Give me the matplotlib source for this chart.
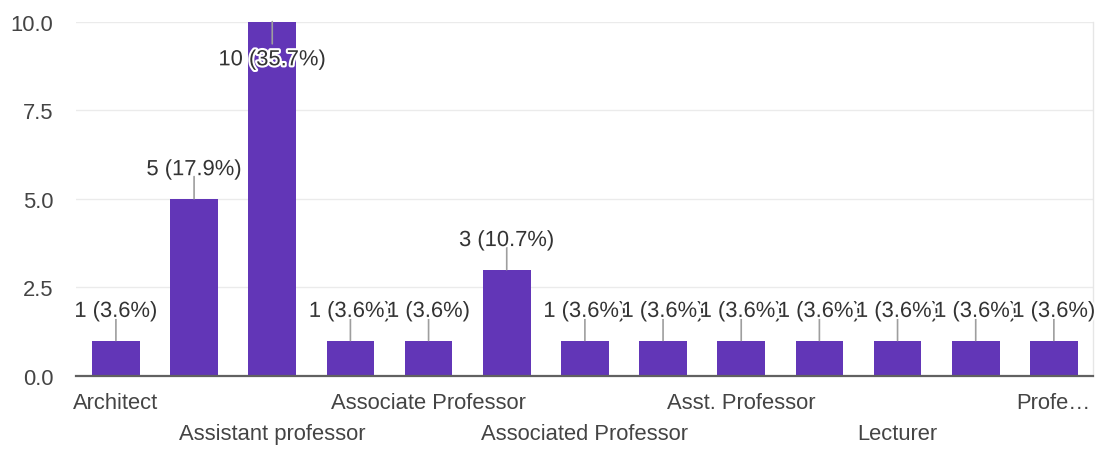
import matplotlib.pyplot as plt
import matplotlib.patheffects as pe
import numpy as np

plt.rcParams['font.family'] = ['Liberation Sans', 'DejaVu Sans']

# categories as they appear; "" = label hidden in the source chart
categories = ["Architect", "", "Assistant professor", "", "Associate Professor", "",
              "Associated Professor", "", "Asst. Professor", "", "Lecturer", "", "Profe…"]
counts = [1, 5, 10, 1, 1, 3, 1, 1, 1, 1, 1, 1, 1]
total = sum(counts)
yticks = [0, 2.5, 5, 7.5, 10]

bar_color = "#6236b7"
text_color = "#333333"
tick_color = "#444444"

fig = plt.figure(figsize=(10.99, 4.52), dpi=100)
ax = fig.add_axes([0.0692, 0.166, 0.9253, 0.784])

x = np.arange(len(counts))
ax.bar(x, counts, width=0.61, color=bar_color, zorder=3)

ax.set_xlim(-0.51, len(counts) - 0.5)
ax.set_ylim(0, 10)
ax.set_yticks(yticks)
ax.set_yticklabels(["%.1f" % t for t in yticks])
ax.grid(axis="y", color="#ebebeb", lw=1, zorder=0)

for s in ["top", "left"]:
    ax.spines[s].set_visible(False)
ax.spines["right"].set_color("#e6e6e6")
ax.spines["right"].set_linewidth(1)
ax.spines["bottom"].set_color("#616161")
ax.spines["bottom"].set_linewidth(1.6)
ax.spines["bottom"].set_zorder(4)

ax.tick_params(axis="both", length=0, labelsize=15.8, colors=tick_color)
ax.tick_params(axis="y", pad=16.5)

ax.set_xticks(x)
ax.set_xticklabels(categories)
# alternate the visible labels between two rows
shown = [i for i, c in enumerate(categories) if c]
for k, i in enumerate(shown):
    tick = ax.xaxis.get_major_ticks()[i]
    tick.set_pad(11.5 if k % 2 == 0 else 34)

for xi, c in zip(x, counts):
    label = "%d (%.1f%%)" % (c, 100.0 * c / total)
    top = c >= ax.get_ylim()[1]
    sign = -1 if top else 1
    ax.annotate("", xy=(xi, c), xytext=(0, sign * 16), textcoords="offset points",
                arrowprops=dict(arrowstyle="-", color="#9e9e9e", lw=1.2,
                                shrinkA=0, shrinkB=0), zorder=5)
    t = ax.annotate(label, xy=(xi, c), xytext=(0, sign * 17 if not top else -31.5),
                    textcoords="offset points", ha="center",
                    va="baseline", fontsize=15.8, color=text_color, zorder=6,
                    annotation_clip=False)
    t.set_clip_on(True)
    t.set_path_effects([pe.withStroke(linewidth=3, foreground="white")])

fig.savefig("out.png", dpi=100)
